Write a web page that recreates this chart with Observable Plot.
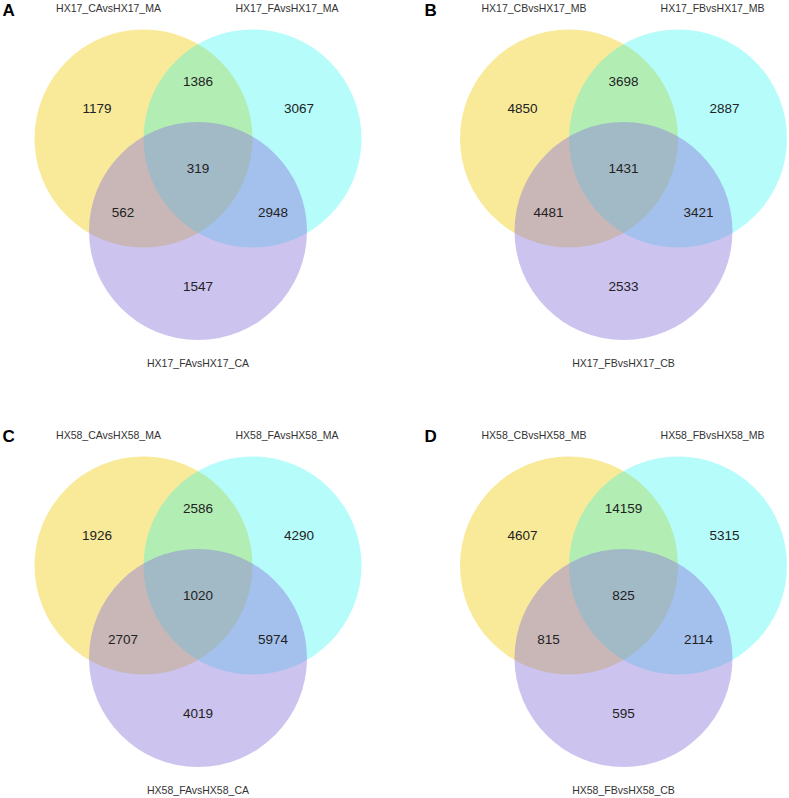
<!DOCTYPE html>
<html>
<head>
<meta charset="utf-8">
<script src="https://cdn.jsdelivr.net/npm/d3@7"></script>
<script src="https://cdn.jsdelivr.net/npm/@observablehq/plot@0.6"></script>
<style>
  html, body { margin: 0; padding: 0; background: #ffffff; }
  #chart svg { display: block; }
</style>
</head>
<body>
<div id="chart"></div>
<script>
// ---- Data ----
const panels = ["A", "B", "C", "D"];
const setNamesA = ["HX17_CAvsHX17_MA", "HX17_FAvsHX17_MA", "HX17_FAvsHX17_CA"];
const setNamesB = ["HX17_CBvsHX17_MB", "HX17_FBvsHX17_MB", "HX17_FBvsHX17_CB"];
const setNamesC = ["HX58_CAvsHX58_MA", "HX58_FAvsHX58_MA", "HX58_FAvsHX58_CA"];
const setNamesD = ["HX58_CBvsHX58_MB", "HX58_FBvsHX58_MB", "HX58_FBvsHX58_CB"];
// region order: only1, 1&2, only2, all, 1&3, 2&3, only3
const regions = ["1", "12", "2", "123", "13", "23", "3"];
const countsA = [1179, 1386, 3067, 319, 562, 2948, 1547];
const countsB = [4850, 3698, 2887, 1431, 4481, 3421, 2533];
const countsC = [1926, 2586, 4290, 1020, 2707, 5974, 4019];
const countsD = [4607, 14159, 5315, 825, 815, 2114, 595];
const setColors = ["#f3d535", "#0cf5f2", "#8e7adb"];
const setOpacity = [0.5, 0.3, 0.45];

// ---- Layout (pixel geometry of the Venn panels) ----
const W = 789, H = 798;
const panelCenter = {A: [197.5, 138], B: [623, 138], C: [197.5, 565], D: [623, 565]};
const letterPos = {A: [2, 10], B: [424, 10], C: [2, 436], D: [424, 436]};
const R = 109;
const circleOffset = [[-54.5, 0], [54.5, 0], [0, 92.5]];
const regionOffset = {"1": [-101, -30], "12": [0, -57], "2": [101, -30], "123": [0, 30],
                      "13": [-75, 74], "23": [75, 74], "3": [0, 148]};
const labelOffset = [[-89.5, -130], [89, -130], [0, 225]];

const names = {A: setNamesA, B: setNamesB, C: setNamesC, D: setNamesD};
const counts = {A: countsA, B: countsB, C: countsC, D: countsD};

const circles = [];
const labels = [];
const numbers = [];
for (const p of panels) {
  const [cx, cy] = panelCenter[p];
  names[p].forEach((n, i) => {
    circles.push({panel: p, set: i, x: cx + circleOffset[i][0], y: cy + circleOffset[i][1]});
    labels.push({panel: p, text: n, x: cx + labelOffset[i][0], y: cy + labelOffset[i][1]});
  });
  counts[p].forEach((v, k) => {
    const off = regionOffset[regions[k]];
    numbers.push({panel: p, value: v, x: cx + off[0], y: cy + off[1]});
  });
}
const letters = panels.map(p => ({text: p, x: letterPos[p][0], y: letterPos[p][1]}));

const marks = [];
for (let i = 0; i < 3; i++) {
  marks.push(Plot.dot(circles.filter(d => d.set === i), {
    x: "x", y: "y", r: R, fill: setColors[i], fillOpacity: setOpacity[i], stroke: "none"
  }));
}
marks.push(Plot.text(numbers, {
  x: "x", y: "y", text: d => String(d.value), fill: "#222",
  fontSize: 13.5, fontFamily: "Liberation Sans, Arial, sans-serif"
}));
marks.push(Plot.text(labels, {
  x: "x", y: "y", text: "text", fill: "#333",
  fontSize: 10.5, fontFamily: "Liberation Sans, Arial, sans-serif"
}));
marks.push(Plot.text(letters, {
  x: "x", y: "y", text: "text", fill: "#000", textAnchor: "start",
  fontSize: 17, fontWeight: "bold", fontFamily: "Liberation Sans, Arial, sans-serif"
}));

const chart = Plot.plot({
  width: W, height: H,
  margin: 0,
  x: {domain: [0, W], range: [0, W], axis: null},
  y: {domain: [0, H], range: [0, H], axis: null},
  style: {background: "#ffffff", overflow: "visible"},
  marks
});
document.getElementById("chart").appendChild(chart);
</script>
</body>
</html>
